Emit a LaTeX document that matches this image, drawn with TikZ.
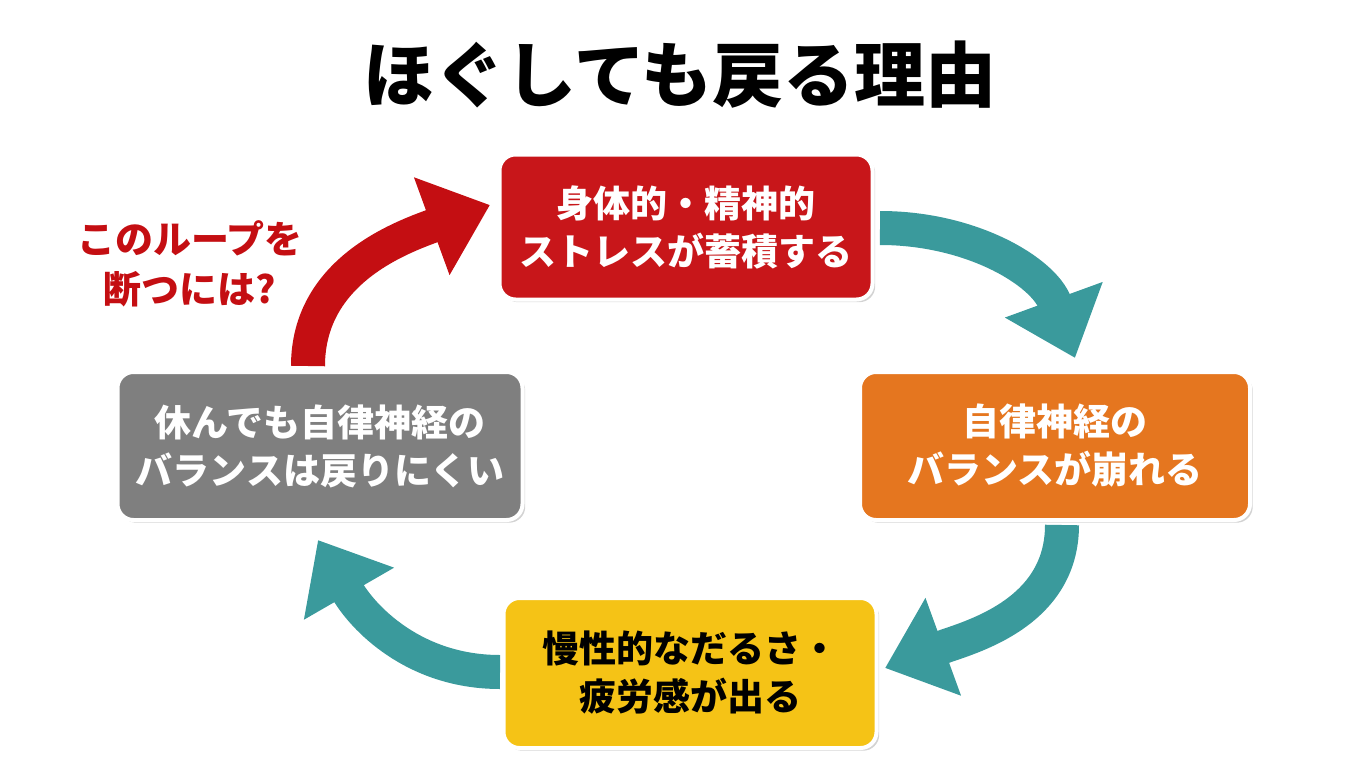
\documentclass[tikz,border=0pt]{standalone}
\usepackage{fontspec}
\setmainfont{Noto Sans CJK JP}
\usetikzlibrary{arrows.meta,shadows}
\definecolor{boxred}{HTML}{C8161A}
\definecolor{boxorange}{HTML}{E5761F}
\definecolor{boxyellow}{HTML}{F5C316}
\definecolor{boxgray}{HTML}{7F7F7F}
\definecolor{loopteal}{HTML}{3A9A9C}
\definecolor{loopred}{HTML}{C40E12}
\tikzset{
  stage/.style={rounded corners=16pt, draw=white, line width=4pt, align=center,
    font=\fontsize{37}{48}\selectfont\bfseries, drop shadow={opacity=0.35}},
  cyc/.style={line width=34pt, draw=loopteal,
    -{Triangle[length=62pt,width=100pt]}},
}
\begin{document}
\begin{tikzpicture}[x=1pt,y=-1pt]
  \useasboundingbox (0,0) rectangle (1360,784);
  \node[font=\fontsize{71}{76}\selectfont\bfseries] (title) at (680,75) {ほぐしても戻る理由};
  \node[stage, fill=boxred, text=white, minimum width=373pt, minimum height=145pt] (stress) at (686,227)
    {身体的・精神的\\ストレスが蓄積する};
  \node[stage, fill=boxorange, text=white, minimum width=390pt, minimum height=148pt] (balance) at (1055,446)
    {自律神経の\\バランスが崩れる};
  \node[stage, fill=boxyellow, text=black, minimum width=373pt, minimum height=150pt] (fatigue) at (690,673)
    {慢性的なだるさ・\\疲労感が出る};
  \node[stage, fill=boxgray, text=white, minimum width=405pt, minimum height=148pt] (rest) at (320,446)
    {休んでも自律神経の\\バランスは戻りにくい};
  \node[text=loopred, align=center, font=\fontsize{38}{50}\selectfont\bfseries] (ask) at (190,264)
    {このループを\\断つには?};
  \coordinate (s1) at (880,228);
  \coordinate (b1) at (1062,525);
  \coordinate (f1) at (500,672);
  \coordinate (r1) at (308,366);
  \draw[cyc] (s1) to[out=0,in=110] (1075,358);
  \draw[cyc] (b1) to[out=-90,in=20] (885,668);
  \draw[cyc] (f1) to[out=180,in=-60] (318,540);
  \draw[cyc, draw=loopred] (r1) to[out=90,in=200] (490,205);
\end{tikzpicture}
\end{document}
